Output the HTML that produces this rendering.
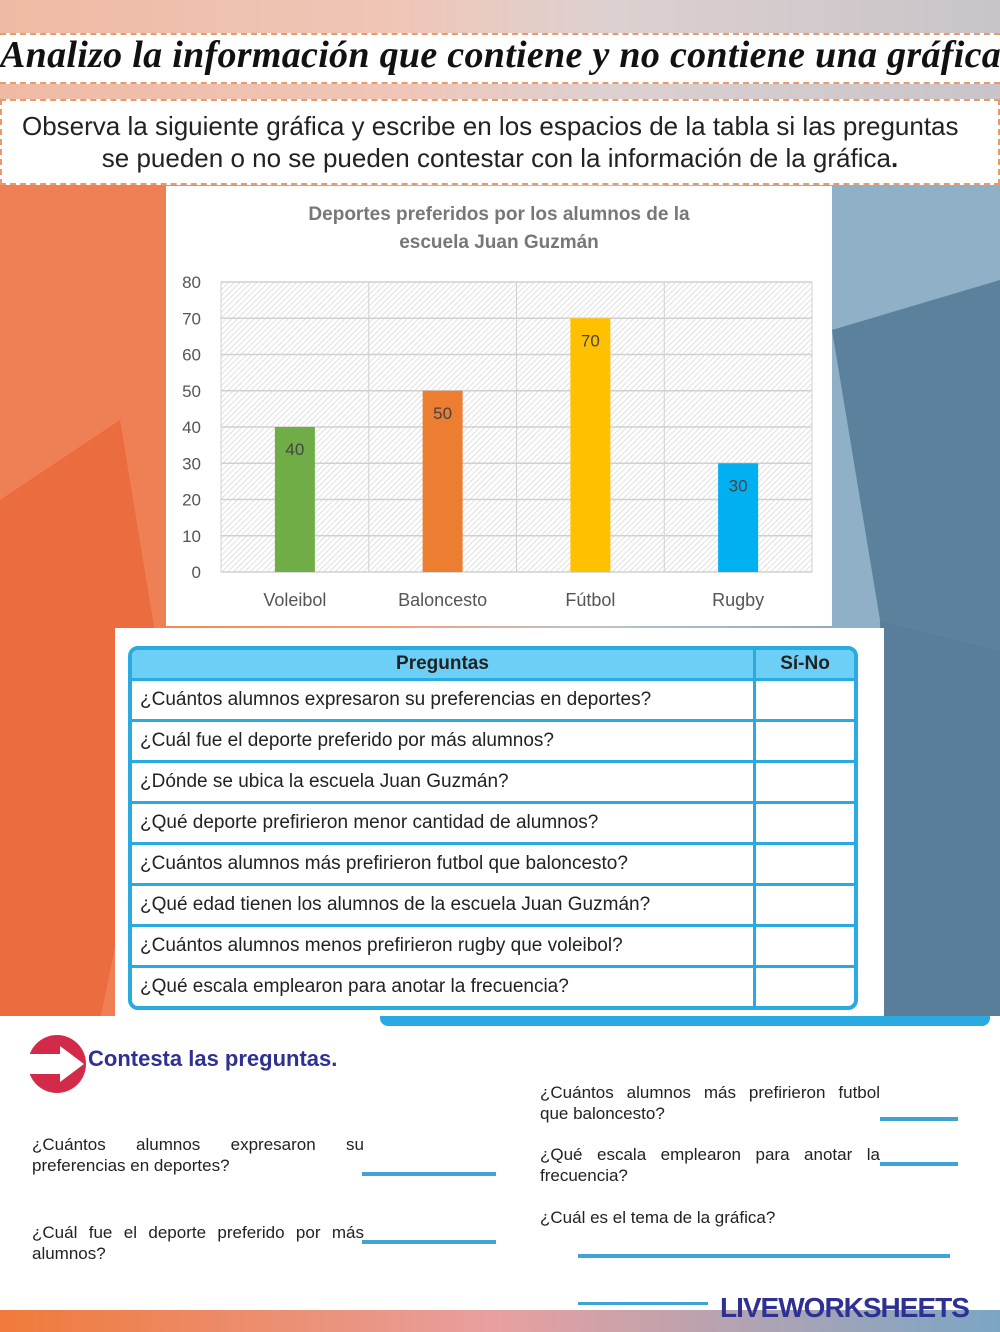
<!DOCTYPE html>
<html><head><meta charset="utf-8"><style>
*{margin:0;padding:0;box-sizing:border-box}
body{width:1000px;height:1332px;position:relative;overflow:hidden;font-family:"Liberation Sans",sans-serif;background:#fff}
.abs{position:absolute}
</style></head><body>
<svg class="abs" style="left:0;top:0" width="1000" height="1332">
<defs>
<linearGradient id="lg" x1="0" y1="0" x2="1" y2="0"><stop offset="0" stop-color="#f07a3a"/><stop offset="0.4" stop-color="#f3a07a"/><stop offset="0.6" stop-color="#b7c4cc"/><stop offset="1" stop-color="#6f9bb5"/></linearGradient>
<linearGradient id="bg2" x1="0" y1="0" x2="1" y2="0"><stop offset="0" stop-color="#f07a3a"/><stop offset="0.5" stop-color="#e8a0a0"/><stop offset="1" stop-color="#7aa6c4"/></linearGradient>
</defs>
<rect width="1000" height="1020" fill="url(#lg)"/>
<rect width="1000" height="120" fill="#eed6d2" opacity="0.7"/>
<polygon points="0,180 166,180 166,1020 0,1020" fill="#ef8055"/>
<polygon points="0,500 120,420 166,700 100,1020 0,1020" fill="#e8673a" opacity="0.8"/>
<polygon points="832,180 1000,180 1000,1020 832,1020" fill="#8fb0c6"/>
<polygon points="832,330 1000,280 1000,650 880,620" fill="#456d8c" opacity="0.7"/>
<polygon points="880,620 1000,650 1000,1020 884,1020" fill="#5a7e99"/>
<rect y="1016" width="1000" height="294" fill="#fff"/>
<rect y="1310" width="1000" height="22" fill="url(#bg2)"/>
</svg>

<div class="abs" style="left:0;top:33px;width:1000px;height:51px;background:#fff;border-top:2px dashed #e89a6a;border-bottom:2px dashed #e89a6a"></div>
<div class="abs" style="left:0;top:33px;width:1010px;font-family:'Liberation Serif',serif;font-style:italic;font-weight:bold;font-size:38px;letter-spacing:0.3px;white-space:nowrap;color:#111">Analizo la información que contiene y no contiene una gráfica.</div>

<div class="abs" style="left:0;top:99px;width:1000px;height:86px;background:#fff;border:2px dashed #e89a6a;font-size:26px;color:#222;text-align:center;line-height:32px;padding-top:9px;white-space:nowrap;overflow:hidden">
<div style="margin-left:20px;text-align:left">Observa la siguiente gráfica y escribe en los espacios de la tabla si las preguntas</div>
<div>se pueden o no se pueden contestar con la información de la gráfica<b>.</b></div></div>

<svg class="abs" id="chart" style="left:166px;top:186px" width="666" height="440"></svg>

<div class="abs" style="left:115px;top:628px;width:769px;height:388px;background:#fff"></div>
<div class="abs" style="left:380px;top:1016px;width:610px;height:10px;background:#29abe2;border-radius:0 0 8px 8px"></div>
<table class="abs" style="left:128px;top:646px;width:730px;border-collapse:separate;border-spacing:0;border:4px solid #29abe2;border-radius:10px;overflow:hidden;font-size:19px;color:#222">
<tbody id="tb"></tbody></table>

<div class="abs" style="left:28px;top:1035px;width:58px;height:58px;border-radius:50%;background:#d42a4a"></div>
<div class="abs" style="left:28px;top:1054px;width:40px;height:20px;background:#fff"></div>
<div class="abs" style="left:60px;top:1046px;width:0;height:0;border-top:18px solid transparent;border-bottom:18px solid transparent;border-left:24px solid #fff"></div>
<div class="abs" style="left:88px;top:1046px;font-size:22px;font-weight:bold;color:#2e3192">Contesta las preguntas.</div>

<div class="abs" style="left:32px;top:1134px;width:332px;font-size:17px;line-height:21px;text-align:justify;color:#222">¿Cuántos alumnos expresaron su preferencias en deportes?</div>
<div class="abs" style="left:362px;top:1172px;width:134px;height:4px;background:#3fa4d4"></div>
<div class="abs" style="left:32px;top:1222px;width:332px;font-size:17px;line-height:21px;text-align:justify;color:#222">¿Cuál fue el deporte preferido por más alumnos?</div>
<div class="abs" style="left:362px;top:1240px;width:134px;height:4px;background:#3fa4d4"></div>
<div class="abs" style="left:540px;top:1082px;width:340px;font-size:17px;line-height:21px;text-align:justify;color:#222">¿Cuántos alumnos más prefirieron futbol que baloncesto?</div>
<div class="abs" style="left:880px;top:1117px;width:78px;height:4px;background:#3fa4d4"></div>
<div class="abs" style="left:540px;top:1144px;width:340px;font-size:17px;line-height:21px;text-align:justify;color:#222">¿Qué escala emplearon para anotar la frecuencia?</div>
<div class="abs" style="left:880px;top:1162px;width:78px;height:4px;background:#3fa4d4"></div>
<div class="abs" style="left:540px;top:1208px;font-size:17px;color:#222">¿Cuál es el tema de la gráfica?</div>
<div class="abs" style="left:578px;top:1254px;width:372px;height:4px;background:#3fa4d4"></div>
<div class="abs" style="left:578px;top:1302px;width:130px;height:3px;background:#3fa4d4"></div>
<div class="abs" style="left:720px;top:1292px;font-size:28px;font-weight:bold;color:#2e3192;letter-spacing:-1px">LIVEWORKSHEETS</div>

<script>
const categories=["Voleibol","Baloncesto","Fútbol","Rugby"];
const values=[40,50,70,30];
const colors=["#70ad47","#ed7d31","#ffc000","#00b0f0"];
const ticks=[0,10,20,30,40,50,60,70,80];
const questions=["¿Cuántos alumnos expresaron su preferencias en deportes?","¿Cuál fue el deporte preferido por más alumnos?","¿Dónde se ubica la escuela Juan Guzmán?","¿Qué deporte prefirieron menor cantidad de alumnos?","¿Cuántos alumnos más prefirieron futbol que baloncesto?","¿Qué edad tienen los alumnos de la escuela Juan Guzmán?","¿Cuántos alumnos menos prefirieron rugby que voleibol?","¿Qué escala emplearon para anotar la frecuencia?"];
const NS="http://www.w3.org/2000/svg";
const svg=document.getElementById('chart');
const L=55,R=646,T=96,B=386,ymax=80;
const y=v=>B-(v/ymax)*(B-T);
const bw=(R-L)/categories.length;
const x=i=>L+bw*(i+0.5);
function mk(t,a,txt){const e=document.createElementNS(NS,t);for(const k in a)e.setAttribute(k,a[k]);if(txt!=null)e.textContent=txt;svg.appendChild(e);return e;}
svg.innerHTML='<defs><pattern id="hatch" width="4" height="4" patternUnits="userSpaceOnUse" patternTransform="rotate(45)"><rect width="4" height="4" fill="#fff"/><line x1="0" y1="0" x2="0" y2="4" stroke="#d6d6d6" stroke-width="1.5"/></pattern></defs>';
let e=mk('rect',{width:666,height:440,fill:'#fff'});

e=mk('rect',{x:L,y:T,width:R-L,height:B-T,fill:'url(#hatch)'});

e=mk('text',{x:333,y:34,'text-anchor':'middle','font-size':19,'font-weight':'bold',fill:'#777'},'Deportes preferidos por los alumnos de la');

e=mk('text',{x:333,y:62,'text-anchor':'middle','font-size':19,'font-weight':'bold',fill:'#777'},'escuela Juan Guzmán');

ticks.forEach(t=>{
 e=mk('line',{x1:L,x2:R,y1:y(t),y2:y(t),stroke:'#d0d0d0','stroke-width':1.5});
 
 e=mk('text',{x:35,y:y(t)+6,'text-anchor':'end','font-size':17,fill:'#555'},t);
 
});
for(let i=0;i<=categories.length;i++){e=mk('line',{x1:L+bw*i,x2:L+bw*i,y1:T,y2:B,stroke:'#d0d0d0','stroke-width':1});
 }
categories.forEach((c,i)=>{
 e=mk('rect',{x:x(i)-20,y:y(values[i]),width:40,height:B-y(values[i]),fill:colors[i]});
 
 e=mk('text',{x:x(i),y:y(values[i])+28,'text-anchor':'middle','font-size':17,fill:'#444'},values[i]);
 
 e=mk('text',{x:x(i),y:420,'text-anchor':'middle','font-size':18,fill:'#555'},c);
 
});
const tb=document.getElementById('tb');
let tr=document.createElement('tr');


tr.innerHTML='<th style="height:28px;background:#6dcff6;border-right:3px solid #29abe2;font-size:19px">Preguntas</th><th style="width:98px;background:#6dcff6;font-size:19px">Sí-No</th>';
tb.appendChild(tr);
questions.forEach((q,i)=>{
 const r=document.createElement('tr');
 
 
 r.innerHTML='<td style="height:41px;padding-left:8px;border-top:3px solid #29abe2;border-right:3px solid #29abe2;white-space:nowrap">'+q+'</td><td style="border-top:3px solid #29abe2"></td>';
 const cell=r.children[1];
 
 
 tb.appendChild(r);
});
</script>
</body></html>
